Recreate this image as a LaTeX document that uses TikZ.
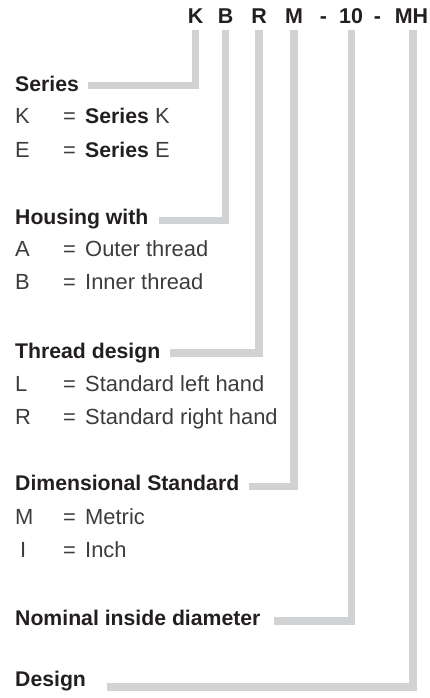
\documentclass[tikz,border=0pt]{standalone}
\usepackage{fontspec}
\setmainfont{Liberation Sans}
\definecolor{barGray}{HTML}{D1D2D4}
\definecolor{inkDark}{HTML}{231F20}
\definecolor{inkText}{HTML}{3C3C3C}
\tikzset{
  txt/.style={inner sep=0pt, anchor=base west, font=\fontsize{22}{26}\selectfont},
  hdr/.style={inner sep=0pt, anchor=base, text=inkDark, font=\fontsize{21.5}{26}\selectfont\bfseries},
  grp/.style={txt, text=inkDark, font=\fontsize{21.3}{26}\selectfont\bfseries},
  item/.style={txt, text=inkText},
  codebar/.style={draw=barGray, line width=7.5bp, line join=miter, line cap=butt}
}
\begin{document}
\begin{tikzpicture}[x=1bp,y=-1bp]
\useasboundingbox (0,0) rectangle (429,698);
% order code header
\node[hdr] (cK) at (195.5,24) {K};
\node[hdr] (cB) at (225.5,24) {B};
\node[hdr] (cR) at (259,24) {R};
\node[hdr] (cM) at (294,24) {M};
\node[hdr] (dashA) at (323.5,24) {-};
\node[hdr] (cTen) at (351,24) {10};
\node[hdr] (dashB) at (377.5,24) {-};
\node[hdr] (cMH) at (411.5,24) {MH};
% Series
\node[grp] (series) at (15,91.5) {Series};
\node[item] (keyK) at (15,124) {K};
\node[item] (eqK) at (63,124) {=};
\node[item] (descK) at (85,124) {\textcolor{inkDark}{\fontsize{21.3}{26}\selectfont\bfseries Series} K};
\node[item] (keyE) at (15,157) {E};
\node[item] (eqE) at (63,157) {=};
\node[item] (descE) at (85,157) {\textcolor{inkDark}{\fontsize{21.3}{26}\selectfont\bfseries Series} E};
% Housing
\node[grp] (housing) at (15,224) {Housing with};
\node[item] (keyA) at (15,256) {A};
\node[item] (eqA) at (63,256) {=};
\node[item] (descA) at (85,256) {Outer thread};
\node[item] (keyB) at (15,289) {B};
\node[item] (eqB) at (63,289) {=};
\node[item] (descB) at (85,289) {Inner thread};
% Thread design
\node[grp] (thread) at (15,358) {Thread design};
\node[item] (keyL) at (15,391) {L};
\node[item] (eqL) at (63,391) {=};
\node[item] (descL) at (85,391) {Standard left hand};
\node[item] (keyR) at (15,424.5) {R};
\node[item] (eqR) at (63,424.5) {=};
\node[item] (descR) at (85,424.5) {Standard right hand};
% Dimensional standard
\node[grp] (dimstd) at (15,490) {Dimensional Standard};
\node[item] (keyM) at (15,524) {M};
\node[item] (eqM) at (63,524) {=};
\node[item] (descM) at (85,524) {Metric};
\node[item] (keyI) at (20,557) {I};
\node[item] (eqI) at (63,557) {=};
\node[item] (descI) at (85,557) {Inch};
% Nominal diameter and design
\node[grp] (nominal) at (15,625) {Nominal inside diameter};
\node[grp] (design) at (15,686) {Design};
% bar ends
\coordinate (endSeries) at (88,85.5);
\coordinate (endHousing) at (159,220.5);
\coordinate (endThread) at (170,353);
\coordinate (endDim) at (249,486.5);
\coordinate (endNominal) at (274,621);
\coordinate (endDesign) at (107,687);
% connecting bars
\draw[codebar] ([yshift=-6bp]cK.south) |- (endSeries);
\draw[codebar] ([yshift=-6bp]cB.south) |- (endHousing);
\draw[codebar] ([yshift=-6bp]cR.south) |- (endThread);
\draw[codebar] ([yshift=-6bp]cM.south) |- (endDim);
\draw[codebar] ([xshift=0.5bp,yshift=-6bp]cTen.south) |- (endNominal);
\draw[codebar] ([xshift=1.5bp,yshift=-6bp]cMH.south) |- (endDesign);
\end{tikzpicture}
\end{document}
